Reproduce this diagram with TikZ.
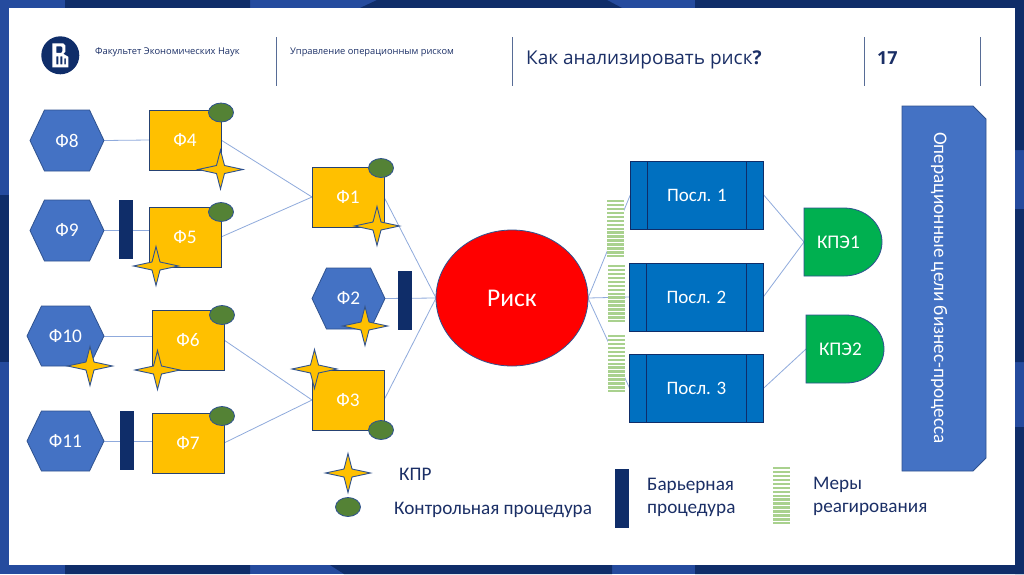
\documentclass[tikz,border=0pt]{standalone}
\usepackage{fontspec}
\setmainfont{Carlito}
\newfontfamily\headfont{Open Sans}
\usetikzlibrary{shapes.geometric,shapes.misc,backgrounds}
\definecolor{navy}{HTML}{0F2D69}
\definecolor{midblue}{HTML}{254B9E}
\definecolor{hexblue}{HTML}{4472C4}
\definecolor{edgeblue}{HTML}{2F528F}
\definecolor{amber}{HTML}{FFC000}
\definecolor{oval}{HTML}{548235}
\definecolor{conseq}{HTML}{0070C0}
\definecolor{kpe}{HTML}{00B050}
\definecolor{stripe}{HTML}{A9D18E}
\definecolor{linkc}{HTML}{8FAADC}
\definecolor{textnavy}{HTML}{1B2F66}
\newcommand{\dn}[1]{\raisebox{-1.2pt}{#1}}
\tikzset{
  lab/.style={text=white,font=\fontsize{19.3}{22}\selectfont,inner sep=0pt,outer sep=0pt},
  box/.style={lab,draw=edgeblue!80!black,fill=amber,line width=.8pt,minimum width=72pt,minimum height=60pt},
  ghost/.style={lab,minimum height=60pt},
  hexf/.style={draw=edgeblue,fill=hexblue,line width=.8pt},
  ctrl/.style={ellipse,draw=edgeblue,fill=oval,line width=.8pt,minimum width=25pt,minimum height=19pt,inner sep=0pt},
  barrier/.style={fill=navy,draw=none,minimum width=14pt,minimum height=59pt,inner sep=0pt},
  link/.style={draw=linkc,line width=.8pt},
  conq/.style={lab,font=\fontsize{19}{22}\selectfont,draw=navy,fill=conseq,line width=.9pt,minimum width=133.5pt,minimum height=68pt},
  legend/.style={text=textnavy,font=\fontsize{19.2}{23.5}\selectfont,inner sep=0pt,align=left,anchor=west},
  rule/.style={draw=navy!70,line width=1pt}
}
\newcommand{\hexf}[6]{%
  \draw[hexf] (#1,{(#3+#4)/2}) -- ({#1+14.5},#3) -- ({#2-14.5},#3) -- (#2,{(#3+#4)/2}) -- ({#2-14.5},#4) -- ({#1+14.5},#4) -- cycle;
  \node[ghost,minimum width={(#2-#1)*1pt},minimum height={(#4-#3)*1pt}] (#5) at ({(#1+#2)/2},{(#3+#4)/2}) {\dn{#6}};}
\newcommand{\kpr}[2]{%
  \draw[fill=amber,draw=edgeblue,line width=.9pt,line join=miter]
   (#1-22.5,#2) -- (#1-4,#2-4) -- (#1,#2-19.5) -- (#1+4,#2-4) -- (#1+22.5,#2) -- (#1+4,#2+4) -- (#1,#2+19.5) -- (#1-4,#2+4) -- cycle;}
\newcommand{\mera}[3]{%
  \fill[white] (#1,#2) rectangle (#1+17,#2+#3);
  \foreach \k in {0,...,14}{\fill[stripe] (#1,{#2+\k*#3/15}) rectangle (#1+17,{#2+\k*#3/15+#3/15*.6});}}
\newcommand{\inner}[1]{%
  \draw[navy,line width=.9pt] ([xshift=17pt]#1.north west) -- ([xshift=17pt]#1.south west)
   ([xshift=-17pt]#1.north east) -- ([xshift=-17pt]#1.south east);}
\newcommand{\kpes}[5]{%
  \draw[draw=edgeblue,fill=kpe,line width=.8pt] (#1,#2) -- (#1+40,#2) arc[start angle=90,end angle=-90,x radius=38,y radius=-34] -- (#1,#2+68) -- cycle;
  \node[lab,minimum width=78pt,minimum height=68pt,text width=78pt,align=left] (#4) at (#1+39,#2+34) {\hspace*{13pt}\dn{#5}};}
\begin{document}
\begin{tikzpicture}[x=1pt,y=-1pt]
\useasboundingbox (0,0) rectangle (1024,574);
\begin{pgfonlayer}{background}
\fill[midblue] (0,0) rectangle (1024,574);
\fill[navy] (65,0) rectangle (250,8) (65,565) rectangle (250,574);
\fill[navy] (377,0) -- (607,0) -- (622,8) -- (360,8) -- cycle;
\fill[navy] (344,574) -- (612,574) -- (612,565) -- (330,565) -- cycle;
\fill[navy] (695,0) rectangle (1024,8) (695,565) rectangle (1024,574);
\fill[navy] (0,195) rectangle (9,362);
\fill[navy] (1015,0) rectangle (1024,150) (1015,209) rectangle (1024,362) (1015,427) rectangle (1024,574);
\fill[white] (9,8) rectangle (1015,565);
\end{pgfonlayer}
% header
\draw[rule] (276,37) -- (276,86);
\draw[rule] (512,37) -- (512,86);
\draw[rule] (864,37) -- (864,86);
\draw[rule] (980,37) -- (980,86);
\fill[navy] (60.3,55.3) circle (19);
\begin{scope}[shift={(60.3,55.3)}]
  \fill[white,even odd rule] (-8,-12) -- (3,-12) -- (5,-10) -- (5,-3.5) -- (3,-1.5) -- (8,1.5) -- (8,12) -- (-8,12) -- cycle
     (-4,-9) -- (-4,-2.5) -- (1,-2.5) -- (2,-4) -- (2,-8) -- (1,-9) -- cycle
     (-4,1) -- (-4,9) -- (-2,9) -- (-2,1) -- cycle
     (0,1) -- (0,9) -- (2,9) -- (2,1) -- cycle
     (4,3) -- (4,9) -- (5.5,9) -- (5.5,3) -- cycle;
\end{scope}
\node[anchor=west,inner sep=0pt,text=textnavy,font=\headfont\fontsize{9.35}{10}\selectfont] (fac) at (95,52) {Факультет Экономических Наук};
\node[anchor=west,inner sep=0pt,text=textnavy,font=\headfont\fontsize{9.3}{10}\selectfont] (mgmt) at (290,52) {Управление операционным риском};
\node[anchor=west,inner sep=0pt,text=textnavy,font=\headfont\fontsize{19}{22}\selectfont] (ttl) at (526,59.5) {Как анализировать риск\textbf{?}};
\node[anchor=west,inner sep=0pt,text=textnavy,font=\headfont\bfseries\fontsize{18}{20}\selectfont] (num) at (877,58) {17};
% factors
\hexf{30}{104}{110}{171}{f8}{Ф8}
\hexf{30}{104}{200}{261}{f9}{Ф9}
\hexf{27}{104}{306}{366}{f10}{Ф10}
\hexf{27}{104}{411}{471}{f11}{Ф11}
\hexf{312}{385}{268}{329}{f2}{Ф2}
\node[box] (f4) at (185,140) {\dn{Ф4}};
\node[box] (f5) at (185,237) {\dn{Ф5}};
\node[box] (f1) at (348,197) {\dn{Ф1}};
\node[box] (f6) at (188,340) {\dn{Ф6}};
\node[box] (f7) at (188,443) {\dn{Ф7}};
\node[box] (f3) at (348,400) {\dn{Ф3}};
% barriers
\node[barrier] (b9) at (126,229.5) {};
\node[barrier] (b11) at (127,440.5) {};
\node[barrier] (b2) at (405,300.5) {};
% risk
\node[ellipse,lab,draw=edgeblue,fill=red,line width=.8pt,minimum width=152pt,minimum height=136pt,font=\fontsize{25.5}{28}\selectfont] (risk) at (512,298) {\dn{Риск}};
% responses and consequences
\mera{607}{200}{59}
\mera{608}{265}{59}
\mera{608}{335}{59}
\node[conq] (p1) at (697,195) {\dn{Посл. 1}}; \inner{p1}
\node[conq] (p2) at (696.5,297) {\dn{Посл. 2}}; \inner{p2}
\node[conq] (p3) at (696.5,388.5) {\dn{Посл. 3}}; \inner{p3}
\kpes{804}{208}{}{k1}{КПЭ1}
\kpes{806}{315}{}{k2}{КПЭ2}
% goals
\draw[draw=edgeblue,fill=hexblue,line width=.8pt] (902,106) -- (973,106) -- (986,119) -- (986,458) -- (973,471) -- (902,471) -- cycle;
\node[lab,rotate=-90,font=\fontsize{19.2}{22}\selectfont] (goal) at (939,288) {Операционные цели бизнес-процесса};
% control marks
\node[ctrl] (c4) at (221,112.5) {};
\node[ctrl] (c5) at (221,212) {};
\node[ctrl] (c1) at (381,168) {};
\node[ctrl] (c6) at (222,315) {};
\node[ctrl] (c7) at (222,416) {};
\node[ctrl] (c3) at (381,430) {};
\kpr{220.5}{169.5}
\kpr{156}{266}
\kpr{377}{226}
\kpr{365}{326}
\kpr{90}{366}
\kpr{157.5}{370}
\kpr{314.5}{369}
% legend
\kpr{348}{473}
\node[ctrl] (lc) at (348,507) {};
\node[legend] (l1) at (399,474.5) {КПР};
\node[legend] (l2) at (394,509.5) {Контрольная процедура};
\node[barrier] (lb) at (621.5,498.5) {};
\node[legend] (l3) at (647,497.5) {Барьерная\\процедура};
\mera{773}{467}{59}
\node[legend] (l4) at (813,496.5) {Меры\\реагирования};
% connectors
\begin{pgfonlayer}{background}
\draw[link] (f8.east) -- (f4.west);
\draw[link] (f9.east) -- (f9.east -| f5.west);
\draw[link] (f10.east) -- (f10.east -| f6.west);
\draw[link] (f11.east) -- (f11.east -| f7.west);
\draw[link] (f4.east) -- (f1.west);
\draw[link] (f5.east) -- (f1.west);
\draw[link] (f6.east) -- (f3.west);
\draw[link] (f7.east) -- (f3.west);
\draw[link] (f1.east) -- (risk.west);
\draw[link] (f2.east) -- (risk.west);
\draw[link] (f3.east) -- (risk.west);
\draw[link] (risk.east) -- (p1.west);
\draw[link] (risk.east) -- (p2.west);
\draw[link] (risk.east) -- (p3.west);
\draw[link] (p1.east) -- (k1.west);
\draw[link] (p2.east) -- (k1.west);
\draw[link] (p3.east) -- (k2.west);
\end{pgfonlayer}
\end{tikzpicture}
\end{document}
